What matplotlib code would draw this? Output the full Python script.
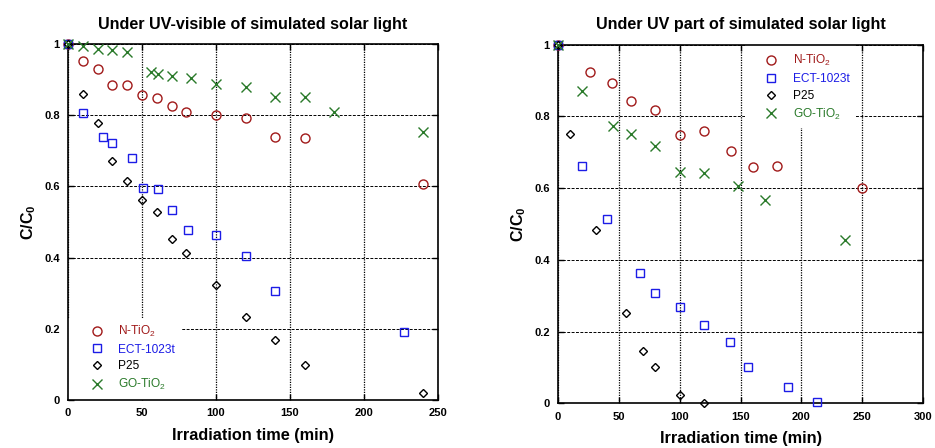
import matplotlib
matplotlib.use("Agg")
import matplotlib.pyplot as plt
from matplotlib.patches import Rectangle
from matplotlib.ticker import FuncFormatter, MultipleLocator

plt.rcParams['font.family'] = ['Liberation Sans', 'DejaVu Sans']
plt.rcParams['mathtext.fontset'] = 'custom'
plt.rcParams['mathtext.rm'] = 'Liberation Sans'
plt.rcParams['mathtext.it'] = 'Liberation Sans:italic'
plt.rcParams['mathtext.bf'] = 'Liberation Sans:bold'

# ---- Panel (a): UV-visible irradiation ----
a_ntio2_t = [0, 10, 20, 30, 40, 50, 60, 70, 80, 100, 120, 140, 160, 240]
a_ntio2_c = [1.0, 0.952, 0.929, 0.885, 0.885, 0.857, 0.848, 0.827, 0.810, 0.800, 0.792, 0.740, 0.736, 0.606]

a_ect_t = [0, 10, 24, 30, 43, 51, 61, 70, 81, 100, 120, 140, 227]
a_ect_c = [1.0, 0.805, 0.740, 0.723, 0.681, 0.595, 0.593, 0.534, 0.479, 0.463, 0.404, 0.306, 0.190]

a_p25_t = [0, 10, 20, 30, 40, 50, 60, 70, 80, 100, 120, 140, 160, 240]
a_p25_c = [1.0, 0.859, 0.779, 0.672, 0.616, 0.562, 0.529, 0.451, 0.412, 0.323, 0.234, 0.168, 0.099, 0.019]

a_go_t = [0, 10, 20, 30, 40, 56, 61, 70, 83, 100, 120, 140, 160, 180, 240]
a_go_c = [1.0, 0.995, 0.986, 0.983, 0.978, 0.922, 0.916, 0.911, 0.904, 0.888, 0.880, 0.852, 0.850, 0.809, 0.754]

# ---- Panel (b): UV part only ----
b_ntio2_t = [0, 26, 44, 60, 80, 100, 120, 142, 160, 180, 250]
b_ntio2_c = [1.0, 0.925, 0.894, 0.842, 0.819, 0.748, 0.758, 0.704, 0.658, 0.662, 0.600]

b_ect_t = [0, 20, 40, 67, 80, 100, 120, 141, 156, 189, 213]
b_ect_c = [1.0, 0.662, 0.513, 0.363, 0.307, 0.268, 0.218, 0.170, 0.100, 0.045, 0.003]

b_p25_t = [0, 10, 31, 56, 70, 80, 100, 120]
b_p25_c = [1.0, 0.751, 0.483, 0.253, 0.146, 0.101, 0.023, 0.002]

b_go_t = [0, 20, 45, 60, 80, 100, 120, 148, 170, 236]
b_go_c = [1.0, 0.872, 0.774, 0.752, 0.718, 0.644, 0.641, 0.606, 0.567, 0.455]

labels = [r'N-TiO$_2$', 'ECT-1023t', 'P25', r'GO-TiO$_2$']
titles = ['Under UV-visible of simulated solar light', 'Under UV part of simulated solar light']
xlabel = 'Irradiation time (min)'
ylabel = r'C/C$_{\mathbf{0}}$'

RED, BLUE, BLACK, GREEN = '#a01a1a', '#1c1ce6', '#000000', '#2a7a2a'
styles = [
    dict(marker='o', ms=6.5, mfc='none', mec=RED, mew=1.0),
    dict(marker='s', ms=6.3, mfc='none', mec=BLUE, mew=1.0),
    dict(marker='D', ms=4.3, mfc='none', mec=BLACK, mew=1.0),
    dict(marker='x', ms=6.5, mfc='none', mec=GREEN, mew=1.0),
]
colors = [RED, BLUE, BLACK, GREEN]

fig = plt.figure(figsize=(9.35, 4.48), dpi=100)
axA = fig.add_axes([0.0727, 0.1071, 0.3957, 0.7946])
axB = fig.add_axes([0.5968, 0.0998, 0.3904, 0.8004])

panels = [
    (axA, [(a_ntio2_t, a_ntio2_c), (a_ect_t, a_ect_c), (a_p25_t, a_p25_c), (a_go_t, a_go_c)], 250),
    (axB, [(b_ntio2_t, b_ntio2_c), (b_ect_t, b_ect_c), (b_p25_t, b_p25_c), (b_go_t, b_go_c)], 300),
]

fmt = FuncFormatter(lambda v, p: ('%g' % round(v, 2)))

handles_all = []
for ax, series, xmax in panels:
    ax.set_xlim(0, xmax)
    ax.set_ylim(0, 1)
    ax.xaxis.set_major_locator(MultipleLocator(50))
    ax.yaxis.set_major_locator(MultipleLocator(0.2))
    ax.xaxis.set_major_formatter(fmt)
    ax.yaxis.set_major_formatter(fmt)
    ax.set_axisbelow(True)
    # vertical dotted / horizontal dashed grid
    ax.xaxis.grid(True, linestyle=(0, (1, 1)), color='black', linewidth=0.9)
    ax.yaxis.grid(True, linestyle=(0, (3, 1.5)), color='black', linewidth=0.7)
    ax.tick_params(direction='in', top=True, right=True, length=4, width=1,
                   labelsize=8, pad=6)
    for lab in ax.get_xticklabels() + ax.get_yticklabels():
        lab.set_fontweight('bold')
    for sp in ax.spines.values():
        sp.set_linewidth(1.2)
    hs = []
    for (t, c), st in zip(series, styles):
        h, = ax.plot(t, c, linestyle='none', zorder=3, clip_on=False, **st)
        hs.append(h)
    handles_all.append(hs)
    ax.set_xlabel(xlabel, fontsize=11.7, fontweight='bold', labelpad=7)
    ax.set_ylabel(ylabel, fontsize=11.5, fontweight='bold', labelpad=4)

axA.set_title(titles[0], fontsize=11.6, fontweight='bold', pad=11)
axB.set_title(titles[1], fontsize=11.6, fontweight='bold', pad=11)

# white panels behind the legends hide the grid there
axA.add_patch(Rectangle((0.0, 0.0), 0.308, 0.2275, transform=axA.transAxes,
                        facecolor='white', edgecolor='none', zorder=1))
axB.add_patch(Rectangle((0.512, 0.768), 0.302, 0.232, transform=axB.transAxes,
                        facecolor='white', edgecolor='none', zorder=1))

legA = axA.legend(handles_all[0], labels, loc='lower left', bbox_to_anchor=(0.04, 0.0),
                  frameon=False, fontsize=8.6, handlelength=1.0, handletextpad=1.3,
                  labelspacing=0.4, borderaxespad=0.25)
legB = axB.legend(handles_all[1], labels, loc='upper left', bbox_to_anchor=(0.545, 1.0),
                  frameon=False, fontsize=8.6, handlelength=1.0, handletextpad=1.3,
                  labelspacing=0.4, borderaxespad=0.3)
for leg in (legA, legB):
    for txt, col in zip(leg.get_texts(), colors):
        txt.set_color(col)

fig.savefig('out.png', dpi=100)
